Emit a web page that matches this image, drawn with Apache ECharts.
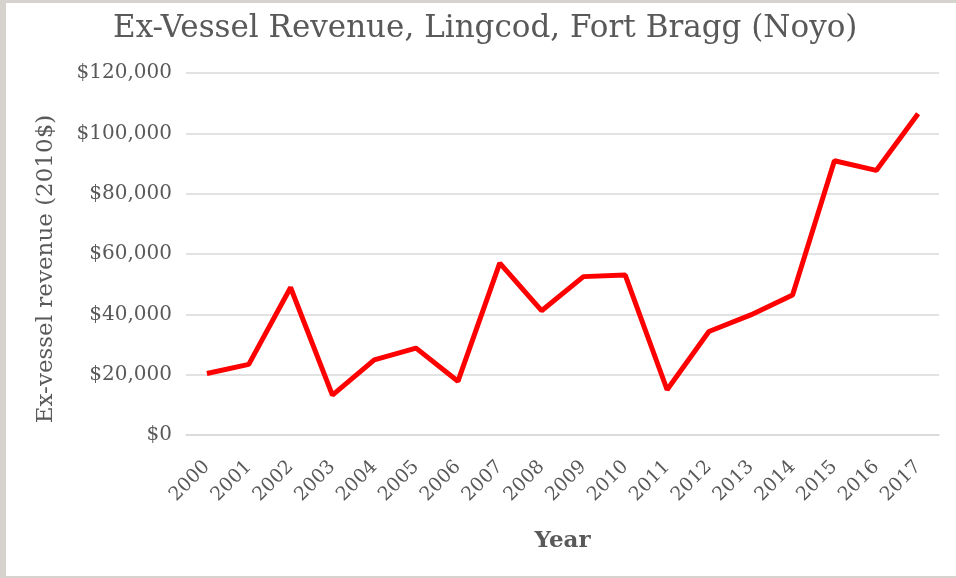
<!DOCTYPE html>
<html>
<head>
<meta charset="utf-8">
<script src="https://cdn.jsdelivr.net/npm/echarts@6/dist/echarts.min.js"></script>
<style>
  html, body { margin: 0; padding: 0; background: #d6d3ce; }
  #frame { position: absolute; left: 6px; top: 3px; width: 950px; height: 573px; background: #fff; }
  #chart { position: absolute; left: -6px; top: -3px; width: 956px; height: 578px; }
</style>
</head>
<body>
<div id="frame"><div id="chart"></div></div>
<script>
// 数据
var years = ['2000', '2001', '2002', '2003', '2004', '2005', '2006', '2007', '2008',
  '2009', '2010', '2011', '2012', '2013', '2014', '2015', '2016', '2017'];
var revenue = [20400, 23400, 48900, 13200, 24900, 28800, 17800, 57000, 41200,
  52500, 53000, 15000, 34300, 39800, 46400, 90900, 87700, 106500];
var yTicks = [0, 20000, 40000, 60000, 80000, 100000, 120000];

var serif = '"DejaVu Serif", serif';
var grey = '#595959';

var chart = echarts.init(document.getElementById('chart'), null, { renderer: 'canvas' });
chart.setOption({
  animation: false,
  title: {
    text: 'Ex-Vessel Revenue, Lingcod, Fort Bragg (Noyo)',
    left: 113,
    top: 13,
    padding: 0,
    textStyle: { fontFamily: serif, fontSize: 31, fontWeight: 'normal', color: grey }
  },
  grid: { left: 186, right: 17, top: 73, bottom: 143 },
  xAxis: {
    type: 'category',
    data: years,
    name: 'Year',
    nameLocation: 'middle',
    nameGap: 95,
    nameTextStyle: { fontFamily: serif, fontSize: 23, fontWeight: 'bold', color: grey },
    axisLine: { lineStyle: { color: '#d9d9d9', width: 1.5 } },
    axisTick: { show: false },
    axisLabel: {
      interval: 0,
      rotate: 45,
      margin: 29,
      fontFamily: serif,
      fontSize: 19,
      color: grey
    }
  },
  yAxis: {
    type: 'value',
    min: yTicks[0],
    max: yTicks[yTicks.length - 1],
    interval: 20000,
    name: 'Ex-vessel revenue (2010$)',
    nameLocation: 'middle',
    nameRotate: 90,
    nameGap: 128,
    nameTextStyle: { fontFamily: serif, fontSize: 23, color: grey, padding: [0, 30, 0, 0] },
    axisLine: { show: false },
    axisTick: { show: false },
    splitLine: { lineStyle: { color: '#d9d9d9', width: 1.5 } },
    axisLabel: {
      margin: 14,
      fontFamily: serif,
      fontSize: 20,
      color: grey,
      formatter: function (v) {
        return '$' + v.toLocaleString('en-US');
      }
    }
  },
  series: [{
    type: 'line',
    data: revenue,
    symbol: 'none',
    lineStyle: { color: '#ff0000', width: 5 }
  }]
});
</script>
</body>
</html>
